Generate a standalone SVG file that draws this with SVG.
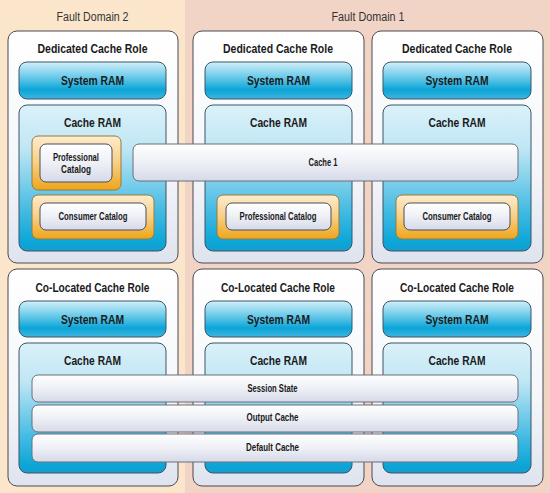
<svg xmlns="http://www.w3.org/2000/svg" width="550" height="493" viewBox="0 0 550 493">
<defs>
<linearGradient id="gRole" x1="0" y1="0" x2="0" y2="1">
<stop offset="0" stop-color="#ffffff"/><stop offset="0.6" stop-color="#f4f6fa"/><stop offset="1" stop-color="#dfe3ee"/>
</linearGradient>
<linearGradient id="gSys" x1="0" y1="0" x2="0" y2="1">
<stop offset="0" stop-color="#d2eff9"/><stop offset="0.4" stop-color="#6ccbea"/><stop offset="0.75" stop-color="#0ba5d8"/><stop offset="1" stop-color="#3fb5de"/>
</linearGradient>
<linearGradient id="gCache" x1="0" y1="0" x2="0" y2="1">
<stop offset="0" stop-color="#dbf1f9"/><stop offset="0.3" stop-color="#bfe6f4"/><stop offset="0.75" stop-color="#3cb8e2"/><stop offset="0.95" stop-color="#0aa5d6"/><stop offset="1" stop-color="#1a9ccc"/>
</linearGradient>
<linearGradient id="gBar" x1="0" y1="0" x2="0" y2="1">
<stop offset="0" stop-color="#ffffff"/><stop offset="0.5" stop-color="#eef0f6"/><stop offset="1" stop-color="#d6dae8"/>
</linearGradient>
<linearGradient id="gOrange" x1="0" y1="0" x2="0" y2="1">
<stop offset="0" stop-color="#fdeccf"/><stop offset="0.5" stop-color="#f8cf84"/><stop offset="1" stop-color="#eea51a"/>
</linearGradient>
<style>
.role{fill:url(#gRole);stroke:#4a4a50;stroke-width:1}
.sys{fill:url(#gSys);stroke:#3d5566;stroke-width:1}
.cram{fill:url(#gCache);stroke:#3d5566;stroke-width:1}
.bar{fill:url(#gBar);stroke:#6a6e7c;stroke-width:1}
.org{fill:url(#gOrange);stroke:#9a7a3a;stroke-width:1}
.inner{fill:url(#gBar);stroke:#4a4e5c;stroke-width:1}
text{font-family:"Liberation Sans",Arial,sans-serif;fill:#1a1a1a;text-anchor:middle}
.title{font-size:13px;font-weight:bold}
.lbl{font-size:13px;font-weight:bold}
.sm{font-size:10px;font-weight:bold}
.fd{font-size:12.5px;fill:#333}
</style>
</defs>
<rect x="0" y="0" width="185" height="493" fill="#fbe6cb"/>
<rect x="185" y="0" width="365" height="493" fill="#f2d4c7"/>
<text class="fd" x="92.5" y="21" textLength="72" lengthAdjust="spacingAndGlyphs">Fault Domain 2</text>
<text class="fd" x="368" y="21" textLength="73" lengthAdjust="spacingAndGlyphs">Fault Domain 1</text>

<g id="dedicated1">
<rect class="role" x="8" y="31" width="170" height="232" rx="9"/>
<text class="title" x="92.5" y="53" textLength="110" lengthAdjust="spacingAndGlyphs">Dedicated Cache Role</text>
<rect class="sys" x="19" y="62" width="147" height="37" rx="8"/>
<text class="lbl" x="92.5" y="85" textLength="63" lengthAdjust="spacingAndGlyphs">System RAM</text>
<rect class="cram" x="19" y="105" width="147" height="146" rx="8"/>
<text class="lbl" x="92.5" y="127" textLength="57" lengthAdjust="spacingAndGlyphs">Cache RAM</text>
</g>
<g id="dedicated2">
<rect class="role" x="193" y="31" width="171" height="232" rx="9"/>
<text class="title" x="278" y="53" textLength="110" lengthAdjust="spacingAndGlyphs">Dedicated Cache Role</text>
<rect class="sys" x="205" y="62" width="147" height="37" rx="8"/>
<text class="lbl" x="278.5" y="85" textLength="63" lengthAdjust="spacingAndGlyphs">System RAM</text>
<rect class="cram" x="205" y="105" width="147" height="146" rx="8"/>
<text class="lbl" x="278.5" y="127" textLength="57" lengthAdjust="spacingAndGlyphs">Cache RAM</text>
</g>
<g id="dedicated3">
<rect class="role" x="372" y="31" width="171" height="232" rx="9"/>
<text class="title" x="457" y="53" textLength="110" lengthAdjust="spacingAndGlyphs">Dedicated Cache Role</text>
<rect class="sys" x="383" y="62" width="148" height="37" rx="8"/>
<text class="lbl" x="457" y="85" textLength="63" lengthAdjust="spacingAndGlyphs">System RAM</text>
<rect class="cram" x="383" y="105" width="148" height="146" rx="8"/>
<text class="lbl" x="457" y="127" textLength="57" lengthAdjust="spacingAndGlyphs">Cache RAM</text>
</g>

<g id="colocated1">
<rect class="role" x="8" y="269" width="170" height="217" rx="9"/>
<text class="title" x="92.5" y="292" textLength="114" lengthAdjust="spacingAndGlyphs">Co-Located Cache Role</text>
<rect class="sys" x="19" y="301" width="147" height="36" rx="8"/>
<text class="lbl" x="92.5" y="324" textLength="63" lengthAdjust="spacingAndGlyphs">System RAM</text>
<rect class="cram" x="19" y="343" width="147" height="130" rx="8"/>
<text class="lbl" x="92.5" y="365" textLength="57" lengthAdjust="spacingAndGlyphs">Cache RAM</text>
</g>
<g id="colocated2">
<rect class="role" x="193" y="269" width="171" height="217" rx="9"/>
<text class="title" x="278" y="292" textLength="114" lengthAdjust="spacingAndGlyphs">Co-Located Cache Role</text>
<rect class="sys" x="205" y="301" width="147" height="36" rx="8"/>
<text class="lbl" x="278.5" y="324" textLength="63" lengthAdjust="spacingAndGlyphs">System RAM</text>
<rect class="cram" x="205" y="343" width="147" height="130" rx="8"/>
<text class="lbl" x="278.5" y="365" textLength="57" lengthAdjust="spacingAndGlyphs">Cache RAM</text>
</g>
<g id="colocated3">
<rect class="role" x="372" y="269" width="171" height="217" rx="9"/>
<text class="title" x="457" y="292" textLength="114" lengthAdjust="spacingAndGlyphs">Co-Located Cache Role</text>
<rect class="sys" x="383" y="301" width="148" height="36" rx="8"/>
<text class="lbl" x="457" y="324" textLength="63" lengthAdjust="spacingAndGlyphs">System RAM</text>
<rect class="cram" x="383" y="343" width="148" height="130" rx="8"/>
<text class="lbl" x="457" y="365" textLength="57" lengthAdjust="spacingAndGlyphs">Cache RAM</text>
</g>

<g id="professional-catalog-1">
<rect class="org" x="32" y="136" width="89" height="54" rx="6"/>
<rect class="inner" x="40" y="144" width="72" height="38" rx="6"/>
<text class="sm" x="76" y="161" textLength="46" lengthAdjust="spacingAndGlyphs">Professional</text>
<text class="sm" x="76" y="173" textLength="30" lengthAdjust="spacingAndGlyphs">Catalog</text>
</g>
<g id="consumer-catalog-1">
<rect class="org" x="32" y="195" width="122" height="44" rx="6"/>
<rect class="inner" x="40" y="203" width="106" height="27" rx="6"/>
<text class="sm" x="93" y="220" textLength="69" lengthAdjust="spacingAndGlyphs">Consumer Catalog</text>
</g>
<g id="professional-catalog-2">
<rect class="org" x="217" y="195" width="122" height="44" rx="6"/>
<rect class="inner" x="226" y="203" width="105" height="27" rx="6"/>
<text class="sm" x="278" y="220" textLength="77" lengthAdjust="spacingAndGlyphs">Professional Catalog</text>
</g>
<g id="consumer-catalog-3">
<rect class="org" x="396" y="195" width="122" height="44" rx="6"/>
<rect class="inner" x="404" y="203" width="106" height="27" rx="6"/>
<text class="sm" x="457" y="220" textLength="69" lengthAdjust="spacingAndGlyphs">Consumer Catalog</text>
</g>

<g id="cache1">
<rect class="bar" x="133" y="144" width="385" height="37" rx="6"/>
<text class="sm" x="323" y="166" textLength="29" lengthAdjust="spacingAndGlyphs">Cache 1</text>
</g>
<g id="session-state">
<rect class="bar" x="32" y="375" width="486" height="27" rx="6"/>
<text class="sm" x="272.5" y="392" textLength="50" lengthAdjust="spacingAndGlyphs">Session State</text>
</g>
<g id="output-cache">
<rect class="bar" x="32" y="405" width="486" height="27" rx="6"/>
<text class="sm" x="272.5" y="421" textLength="52" lengthAdjust="spacingAndGlyphs">Output Cache</text>
</g>
<g id="default-cache">
<rect class="bar" x="32" y="434" width="486" height="28" rx="6"/>
<text class="sm" x="272.5" y="451" textLength="53" lengthAdjust="spacingAndGlyphs">Default Cache</text>
</g>
<g id="connectors"></g>
</svg>
